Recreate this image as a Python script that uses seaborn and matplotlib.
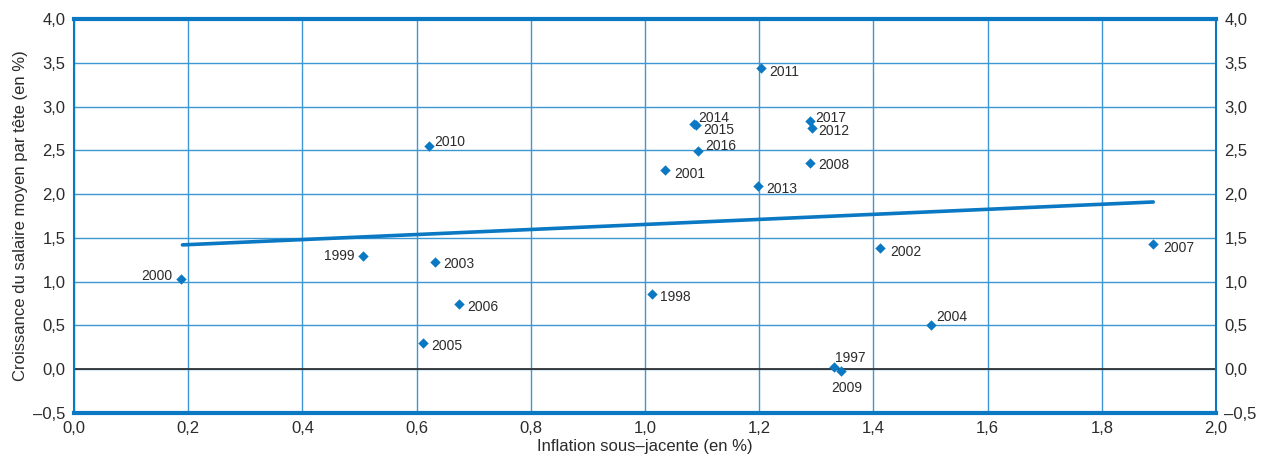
import matplotlib
matplotlib.use("Agg")
import matplotlib.pyplot as plt
import seaborn as sns
import pandas as pd
import numpy as np

# Values
years = [2000, 1999, 2010, 2003, 2006, 2005, 1998, 2001, 2014, 2015, 2016,
         2011, 2013, 2017, 2012, 2008, 2002, 2004, 1997, 2009, 2007]
inflation = [0.187, 0.506, 0.622, 0.632, 0.674, 0.611, 1.012, 1.035, 1.086, 1.090, 1.093,
             1.203, 1.198, 1.289, 1.292, 1.289, 1.412, 1.501, 1.331, 1.343, 1.890]
wages = [1.03, 1.29, 2.55, 1.23, 0.74, 0.30, 0.86, 2.28, 2.80, 2.79, 2.49,
         3.44, 2.09, 2.84, 2.75, 2.36, 1.39, 0.50, 0.03, -0.02, 1.43]

trend_x = [0.19, 1.89]
trend_y = [1.42, 1.91]

x_ticks = [0.0, 0.2, 0.4, 0.6, 0.8, 1.0, 1.2, 1.4, 1.6, 1.8, 2.0]
y_ticks = [-0.5, 0.0, 0.5, 1.0, 1.5, 2.0, 2.5, 3.0, 3.5, 4.0]

df = pd.DataFrame({"annee": years, "inflation": inflation, "salaire": wages})
trend = pd.DataFrame({"x": trend_x, "y": trend_y})

# label offsets in points (dx, dy, ha)
offsets = {1999: (-6, 0, "right"), 2000: (-6, 2, "right"), 2014: (3, 4, "left"),
           2015: (5, -4, "left"), 2016: (5, 4, "left"), 2010: (4, 3, "left"),
           2017: (4, 2, "left"), 2012: (5, -2, "left"), 2011: (6, -3, "left"),
           2001: (7, -3, "left"), 1997: (1, 6, "left"), 2009: (-7, -12, "left"),
           2004: (4, 6, "left"), 2007: (7, -3, "left"), 2002: (7, -3, "left")}

BLUE = "#0a78c2"
GRID = "#3d97d3"
TXT = "#2b2b2b"

sns.set_style("white")
plt.rcParams["font.family"] = ["Liberation Sans", "DejaVu Sans"]

fig = plt.figure(figsize=(12.62, 4.63), dpi=100)
ax = fig.add_axes([0.0586, 0.108, 0.905, 0.851])

sns.lineplot(data=trend, x="x", y="y", ax=ax, color=BLUE, linewidth=2.6, zorder=3)
sns.scatterplot(data=df, x="inflation", y="salaire", ax=ax, marker="D", s=28,
                color=BLUE, edgecolor=BLUE, linewidth=0, zorder=4)

for _, r in df.iterrows():
    dx, dy, ha = offsets.get(int(r["annee"]), (6, -2, "left"))
    ax.annotate(str(int(r["annee"])), (r["inflation"], r["salaire"]),
                xytext=(dx, dy), textcoords="offset points", ha=ha, va="center",
                fontsize=10, color=TXT)

ax.set_xlim(0, 2.0)
ax.set_ylim(-0.5, 4.0)
ax.set_xticks(x_ticks)
ax.set_yticks(y_ticks)
fmt = lambda v: f"{v:.1f}".replace(".", ",").replace("-", "–")
ax.set_xticklabels([fmt(v) for v in x_ticks])
ax.set_yticklabels([fmt(v) for v in y_ticks])
ax.grid(True, color=GRID, linewidth=1.0)
ax.axhline(0, color="#333333", linewidth=1.3, zorder=2)

for side in ["top", "bottom"]:
    ax.spines[side].set_color(BLUE)
    ax.spines[side].set_linewidth(3)
for side in ["left", "right"]:
    ax.spines[side].set_color(BLUE)
    ax.spines[side].set_linewidth(1.5)

ax.tick_params(axis="both", labelsize=12, colors=TXT, length=0, pad=6)
ax.tick_params(axis="y", labelright=True, right=False)

ax.set_xlabel("Inflation sous–jacente (en %)", fontsize=12, color=TXT, labelpad=2)
ax.set_ylabel("Croissance du salaire moyen par tête (en %)", fontsize=12, color=TXT, labelpad=4)

fig.savefig("out.png", dpi=100)
